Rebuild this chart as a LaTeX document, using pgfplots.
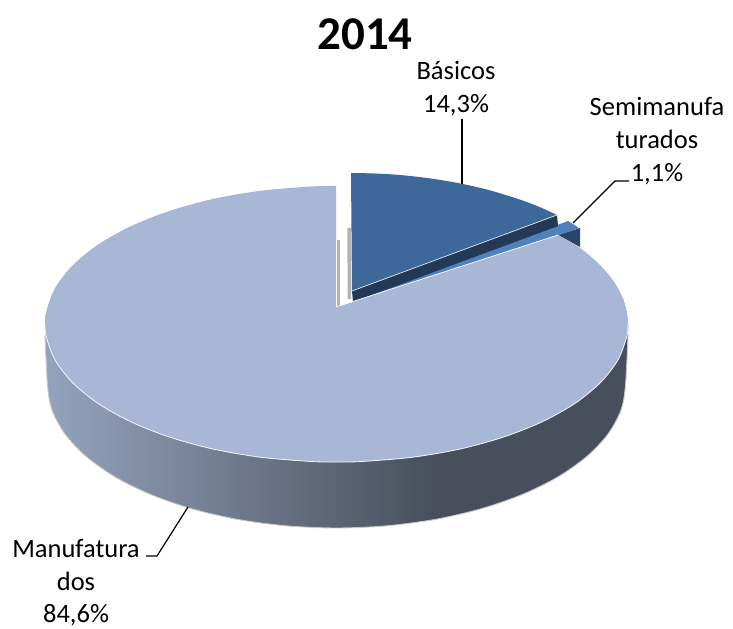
\documentclass[border=0pt]{standalone}
\usepackage{fontspec}
\setmainfont{Carlito}
\usepackage{pgfplots}
\usepackage{pgfplotstable}
\pgfplotsset{compat=1.18}

\definecolor{topface}{HTML}{A8B7D6}
\definecolor{basicos}{HTML}{3E6899}
\definecolor{basicoswall}{HTML}{243858}
\definecolor{semi}{HTML}{4F81BD}
\definecolor{semiwall}{HTML}{2B4568}
\definecolor{wallL}{HTML}{94A4BE}
\definecolor{wallR}{HTML}{484E5B}

% outlines in picture pixels
\pgfplotstableread{
x y
628 324
626.9 336
618.1 359.7
600.7 382.3
575.3 403.2
542.6 421.6
503.7 437
459.7 449.1
411.9 457.3
361.9 461.5
336.5 462
311.1 461.5
261.1 457.3
213.3 449.1
169.3 437
130.4 421.6
97.7 403.2
72.3 382.3
54.9 359.7
46.1 336
45 324
}\topfront

\pgfplotstableread{
x y
558 235
575.3 244.8
589 255
600.7 265.7
610.4 276.8
618.1 288.3
623.6 300
626.9 312
628 324
626.9 336
618.1 359.7
600.7 382.3
575.3 403.2
542.6 421.6
503.7 437
459.7 449.1
411.9 457.3
361.9 461.5
336.5 462
311.1 461.5
261.1 457.3
213.3 449.1
169.3 437
130.4 421.6
97.7 403.2
72.3 382.3
54.9 359.7
46.1 336
45 324
46.1 312
54.9 288.3
72.3 265.7
97.7 244.8
130.4 226.4
169.3 211
213.3 198.9
261.1 190.7
311.1 186.5
336 186
}\topface

\pgfplotstableread{
x y
628 335
625.5 385
621.1 409.8
608.1 433.9
586.8 456.5
557.9 476.9
522.3 494.5
481 508.8
435.3 519.4
386.7 525.8
336.5 528
286.3 525.8
237.7 519.4
192 508.8
150.7 494.5
115.1 476.9
86.2 456.5
64.9 433.9
51.9 409.8
47.5 385
45 335
}\bottomedge

\begin{document}
\begin{tikzpicture}
\begin{axis}[
    hide axis,
    scale only axis,
    width=733pt,
    height=626pt,
    xmin=0, xmax=733,
    ymin=0, ymax=626,
    y dir=reverse,
    clip=false,
]
\path (axis cs:0,0) rectangle (axis cs:733,626);
% side wall of the big slice
\addplot[draw=none, smooth, left color=wallL, right color=wallR] coordinates {
    (45,335)(47.5,385)(51.9,409.8)(64.9,433.9)(86.2,456.5)(115.1,476.9)
    (150.7,494.5)(192,508.8)(237.7,519.4)(286.3,525.8)(336.5,528)(386.7,525.8)
    (436,519.3)
} -- (axis cs:436,400) -- (axis cs:45,324) -- cycle;
\addplot[draw=none, smooth, fill=wallR] coordinates {
    (435,519.5)(481,508.8)(522.3,494.5)(557.9,476.9)(586.8,456.5)
    (608.1,433.9)(621.1,409.8)(625.5,385)(628,335)
} -- (axis cs:628,324) -- (axis cs:435,400) -- cycle;
\addplot[color=black!22, smooth, line width=0.9pt] table[x=x,y=y] {\bottomedge};

% small grey walls in the gap
\addplot[color=black!30, line width=2.6pt] coordinates {(338.5,240)(338.5,307)};
\addplot[color=black!30, line width=3.5pt] coordinates {(349,228)(349.5,299)};

% Semimanufaturados
\addplot[draw=none, fill=semiwall] coordinates {(558,235)(580,228)(580,247)};
\addplot[draw=none, fill=semi] coordinates {(568,221)(579,228)(558,235.5)(354,303)(366,297)};

% Basicos
\addplot[draw=none, fill=basicoswall] coordinates {(352,291)(557,215)(558,226)(353,302)};
\addplot[draw=none, smooth, fill=basicos] coordinates {
    (351,173)(375,173.5)(400,175)(430,178.4)(460,183.4)(490,190.4)(520,199.6)(540,207.2)(557,215)
} -- (axis cs:352,291) -- cycle;
\addplot[color=white!85!basicos, line width=0.7pt] coordinates {(352,291)(557,215)};

% big slice, top face
\addplot[draw=none, smooth, fill=topface] table[x=x,y=y] {\topface}
    -- (axis cs:336,307) -- cycle;
\addplot[color=white!90!topface, smooth, line width=0.8pt] table[x=x,y=y] {\topfront};
\addplot[color=white, line width=0.7pt] coordinates {(336,307)(558,235)};

% leader lines
\addplot[color=black, line width=1.2pt] coordinates {(462,119)(462,184)};
\addplot[color=black, line width=1.2pt] coordinates {(629,181)(615,181)(573,223)};
\addplot[color=black, line width=1.2pt] coordinates {(188,507)(157,556)(146,556)};

% labels
\node[anchor=base, font=\fontsize{47}{47}\selectfont\bfseries] at (axis cs:365,50) {2014};
\node[anchor=base, font=\fontsize{26.5}{26.5}\selectfont] at (axis cs:456,80) {Básicos};
\node[anchor=base, font=\fontsize{26.5}{26.5}\selectfont] at (axis cs:456,113) {14,3\%};
\node[anchor=base, font=\fontsize{26.5}{26.5}\selectfont] at (axis cs:657,116) {Semimanufa};
\node[anchor=base, font=\fontsize{26.5}{26.5}\selectfont] at (axis cs:657,149) {turados};
\node[anchor=base, font=\fontsize{26.5}{26.5}\selectfont] at (axis cs:657,182) {1,1\%};
\node[anchor=base, font=\fontsize{26.5}{26.5}\selectfont] at (axis cs:76,557) {Manufatura};
\node[anchor=base, font=\fontsize{26.5}{26.5}\selectfont] at (axis cs:76,590) {dos};
\node[anchor=base, font=\fontsize{26.5}{26.5}\selectfont] at (axis cs:76,622) {84,6\%};
\end{axis}
\end{tikzpicture}
\end{document}
